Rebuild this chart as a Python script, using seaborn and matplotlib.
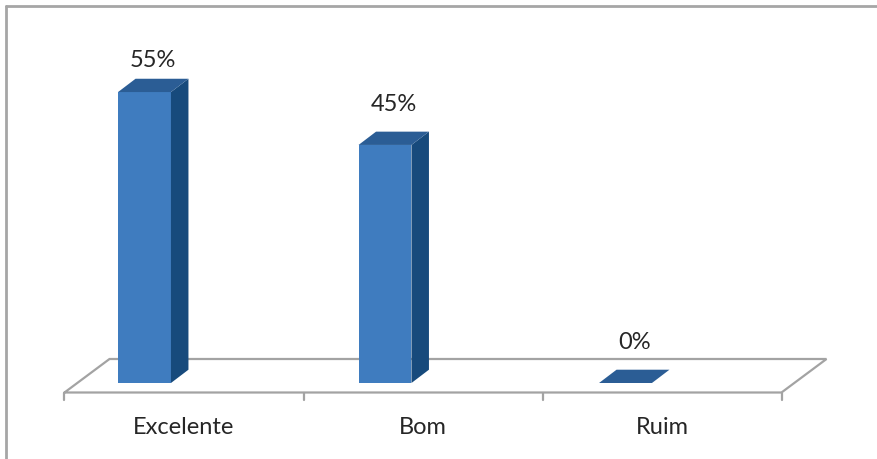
import matplotlib
matplotlib.use("Agg")
import matplotlib.pyplot as plt
from matplotlib.patches import Polygon
from matplotlib.lines import Line2D
import seaborn as sns
import pandas as pd

# Survey results
categories = ["Excelente", "Bom", "Ruim"]
values = [55, 45, 0]
value_labels = ["55%", "45%", "0%"]

sns.set_theme(style="white")
plt.rcParams["font.family"] = ["Lato", "DejaVu Sans"]

W, H = 877, 459
fig = plt.figure(figsize=(W / 100, H / 100), dpi=100)
ax = fig.add_axes([0, 0, 1, 1])

# pixel <-> data mapping: category spacing and percent scale
X0_PX, STEP_PX = 144.5, 240.5
Y0_PX, PCT_PX = 383.0, 5.29


def px_x(px):
    return (px - X0_PX) / STEP_PX


def px_y(py):
    return (Y0_PX - py) / PCT_PX


front_c = "#3F7CBF"
side_c = "#174A7C"
top_c = "#2B5D95"
grid_c = "#A3A3A3"

df = pd.DataFrame({"cat": categories, "val": values})
sns.barplot(data=df, x="cat", y="val", order=categories, width=0.22,
            color=front_c, saturation=1, edgecolor="none", linewidth=0,
            ax=ax, zorder=3)

ax.set_xlim(px_x(0), px_x(W))
ax.set_ylim(px_y(H), px_y(0))
ax.axis("off")

# depth offsets (data units)
bdx, bdy = 17.5 / STEP_PX, 13.3 / PCT_PX       # bar depth
fdx, fdy = 45.0 / STEP_PX, 33.5 / PCT_PX       # floor depth

# floor of the 3D plot
fy = px_y(392.5)
fxl, fxr = px_x(64.5), px_x(781.5)
floor_pts = [(fxl, fy), (fxr, fy), (fxr + fdx, fy + fdy), (fxl + fdx, fy + fdy), (fxl, fy)]
ax.add_line(Line2D([p[0] for p in floor_pts], [p[1] for p in floor_pts],
                   color=grid_c, lw=1.6, zorder=1, solid_joinstyle="miter"))
n = len(categories)
tick_x = [fxl + (fxr - fxl) * k / n for k in range(n + 1)]
for tx in tick_x:
    ax.add_line(Line2D([tx, tx], [fy, px_y(400)], color=grid_c, lw=1.6, zorder=1))

# side and top faces of each bar, plus labels
for i, patch in enumerate(ax.patches[:n]):
    x0 = patch.get_x()
    x1 = x0 + patch.get_width()
    h = patch.get_height()
    if h > 0:
        ax.add_patch(Polygon([(x1, 0), (x1 + bdx, bdy), (x1 + bdx, h + bdy), (x1, h)],
                             closed=True, facecolor=side_c, edgecolor="none", zorder=3))
    ax.add_patch(Polygon([(x0, h), (x1, h), (x1 + bdx, h + bdy), (x0 + bdx, h + bdy)],
                         closed=True, facecolor=top_c, edgecolor="none", zorder=3))
    ly = min(h + 40.5 / PCT_PX, px_y(60))
    ax.text((x0 + x1) / 2 + bdx * 0.5, ly, value_labels[i], ha="center", va="center",
            fontsize=17, color="#262626", zorder=4)
    ax.text((tick_x[i] + tick_x[i + 1]) / 2, px_y(427), categories[i], ha="center",
            va="center", fontsize=17, color="#262626", zorder=4)

# chart frame (top and left edges)
ax.add_line(Line2D([px_x(6.5), px_x(W)], [px_y(5.5), px_y(5.5)], color="#A6A6A6", lw=2, zorder=5))
ax.add_line(Line2D([px_x(6.5), px_x(6.5)], [px_y(5.5), px_y(H)], color="#A6A6A6", lw=2, zorder=5))

fig.savefig("out.png", dpi=100)
